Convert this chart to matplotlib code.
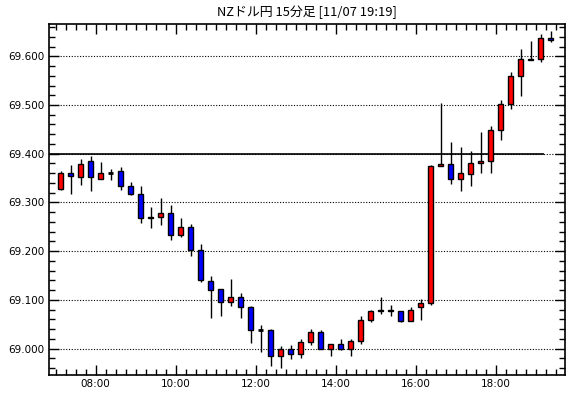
import matplotlib
matplotlib.use("Agg")
import matplotlib.pyplot as plt
import matplotlib.dates as mdates
import pandas as pd
import numpy as np

# 15-minute candles, NZD/JPY, 11/07 07:00 - 19:15
times = pd.date_range("2024-11-07 07:00", periods=50, freq="15min")

opens = [69.328, 69.360, 69.352, 69.384, 69.349, 69.360, 69.364, 69.333, 69.317, 69.267,
         69.271, 69.278, 69.234, 69.249, 69.202, 69.138, 69.122, 69.095, 69.105, 69.085,
         69.039, 69.038, 68.984, 68.998, 68.988, 69.013, 69.033, 69.000, 69.009, 69.000,
         69.015, 69.058, 69.076, 69.080, 69.076, 69.056, 69.085, 69.093, 69.374, 69.379,
         69.349, 69.359, 69.380, 69.386, 69.448, 69.503, 69.559, 69.595, 69.594, 69.637]
closes = [69.360, 69.354, 69.378, 69.352, 69.360, 69.360, 69.333, 69.317, 69.267, 69.271,
          69.278, 69.234, 69.249, 69.202, 69.140, 69.121, 69.095, 69.105, 69.085, 69.039,
          69.039, 68.984, 68.998, 68.988, 69.013, 69.033, 69.000, 69.009, 69.000, 69.015,
          69.058, 69.076, 69.080, 69.076, 69.056, 69.080, 69.093, 69.374, 69.379, 69.349,
          69.360, 69.380, 69.386, 69.448, 69.503, 69.559, 69.595, 69.592, 69.637, 69.633]
highs = [69.364, 69.377, 69.389, 69.395, 69.382, 69.368, 69.372, 69.342, 69.333, 69.291,
         69.310, 69.295, 69.267, 69.255, 69.215, 69.149, 69.122, 69.143, 69.114, 69.087,
         69.049, 69.041, 69.005, 69.007, 69.020, 69.041, 69.039, 69.009, 69.019, 69.019,
         69.066, 69.080, 69.106, 69.089, 69.076, 69.085, 69.101, 69.376, 69.504, 69.423,
         69.413, 69.405, 69.444, 69.456, 69.510, 69.567, 69.614, 69.631, 69.646, 69.651]
lows = [69.326, 69.317, 69.336, 69.324, 69.349, 69.347, 69.326, 69.315, 69.257, 69.248,
        69.254, 69.222, 69.228, 69.189, 69.137, 69.063, 69.067, 69.088, 69.063, 69.012,
        68.993, 68.965, 68.959, 68.978, 68.980, 69.007, 69.000, 68.984, 68.996, 68.984,
        69.009, 69.054, 69.070, 69.066, 69.054, 69.056, 69.058, 69.089, 69.374, 69.338,
        69.324, 69.334, 69.361, 69.361, 69.429, 69.491, 69.519, 69.592, 69.588, 69.629]

ref_level = 69.400
title = "NZドル円 15分足 [11/07 19:19]"

plt.rcParams['font.family'] = ['Noto Sans CJK JP', 'DejaVu Sans']

fig = plt.figure(figsize=(5.70, 3.98), dpi=100)
ax = fig.add_axes([49 / 570, 23 / 398, 516 / 570, 351 / 398])

o = np.array(opens)
c = np.array(closes)
x = mdates.date2num(times) + 7.5 / 1440
w = 7 / 1440

ax.vlines(x, lows, highs, color="black", lw=1, zorder=2)
up = c > o
dn = c < o
eq = c == o
ax.bar(x[up], (c - o)[up], bottom=o[up], width=w, color="#ff0000",
       edgecolor="black", linewidth=1, zorder=3)
ax.bar(x[dn], (c - o)[dn], bottom=o[dn], width=w, color="#0000ff",
       edgecolor="black", linewidth=1, zorder=3)
ax.hlines(o[eq], x[eq] - w / 2, x[eq] + w / 2, color="black", lw=2, zorder=3)

# solid reference line
x0 = mdates.date2num(pd.Timestamp("2024-11-07 06:50"))
t_end = mdates.date2num(pd.Timestamp("2024-11-07 19:12"))
ax.hlines(ref_level, x0, t_end, color="black", lw=1.2, zorder=1)

ax.set_xlim(x0, mdates.date2num(pd.Timestamp("2024-11-07 19:44")))
ax.set_ylim(68.9456, 69.6663)

ax.xaxis.set_major_locator(mdates.HourLocator(byhour=range(0, 24, 2)))
ax.xaxis.set_minor_locator(mdates.MinuteLocator(byminute=[0, 15, 30, 45]))
ax.xaxis.set_major_formatter(mdates.DateFormatter("%H:%M"))
ax.set_yticks(np.arange(69.0, 69.61, 0.1))
ax.set_yticks(np.arange(68.96, 69.67, 0.02), minor=True)
ax.yaxis.set_major_formatter(matplotlib.ticker.FormatStrFormatter("%.3f"))

ax.tick_params(which="both", direction="in", top=True, right=True, labelsize=7.5,
               width=1, color="black")
ax.tick_params(which="major", length=7, pad=3)
ax.tick_params(which="minor", length=4)
for lab in ax.get_xticklabels() + ax.get_yticklabels():
    lab.set_family("DejaVu Sans")

ax.grid(axis="y", which="major", linestyle=(0, (1, 1.5)), color="black", lw=0.8)
ax.set_axisbelow(True)
for s in ax.spines.values():
    s.set_linewidth(1.2)

fig.text(307 / 570, 1 - 12 / 398, title, ha="center", va="center", fontsize=9.3)

fig.savefig("out.png", dpi=100)
